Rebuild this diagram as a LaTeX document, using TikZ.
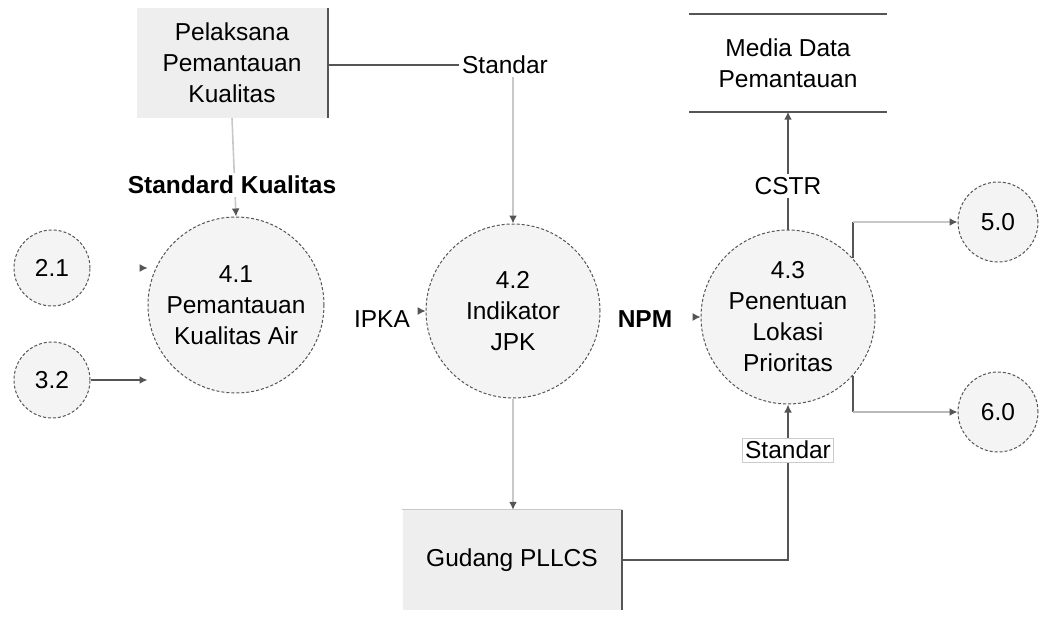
\documentclass[tikz,border=0pt]{standalone}
\usepackage{fontspec}
\setmainfont{Liberation Sans}
\usetikzlibrary{arrows.meta}
\definecolor{lineDark}{HTML}{555555}
\definecolor{lineLight}{HTML}{C8C8C8}
\definecolor{procFill}{HTML}{F4F4F4}
\definecolor{boxFill}{HTML}{EEEEEE}
\begin{document}
\begin{tikzpicture}[x=1pt,y=-1pt,
  every node/.style={font=\fontsize{24.5}{31}\selectfont, align=center, inner sep=2pt},
  proc/.style={circle, draw=lineDark, densely dashed, fill=procFill, line width=1pt, minimum size=#1},
  extbox/.style={fill=boxFill, minimum width=191pt, minimum height=110pt},
  flowlbl/.style={fill=white, inner sep=3pt},
  tip/.style={-{Latex[length=8pt,width=8pt,color=lineDark]}},
  dark/.style={draw=lineDark, line width=1.6pt},
  light/.style={draw=lineLight, line width=1.6pt}]
\useasboundingbox (0,0) rectangle (1041,626);

% external entities
\node[extbox] (tl) at (232,63) {Pelaksana\\Pemantauan\\Kualitas};
\draw[dark] (tl.north east) -- (tl.south east);
\node[extbox, minimum width=219pt, minimum height=100pt] (gud) at (512,560) {Gudang PLLCS};
\draw[dark] (gud.north east) -- (gud.south east);
\draw[lineLight, line width=1pt] (gud.north west) -- (gud.north east);

% data store
\node[minimum width=197pt, minimum height=97pt] (db) at (788,63) {Media Data\\Pemantauan};
\draw[dark] (db.north west) -- (db.north east);
\draw[dark] (db.south west) -- (db.south east);

% processes
\node[proc=176pt] (c41) at (236,305) {4.1\\Pemantauan\\Kualitas Air};
\node[proc=174pt] (c42) at (513,311) {4.2\\Indikator\\JPK};
\node[proc=174pt] (c43) at (788,317) {4.3\\Penentuan\\Lokasi\\Prioritas};
\node[proc=76pt] (c21) at (52,268) {2.1};
\node[proc=76pt] (c32) at (52,380) {3.2};
\node[proc=80pt] (c50) at (998,222) {5.0};
\node[proc=80pt] (c60) at (998,412) {6.0};

% flows
\draw[draw=white, line width=1pt, tip] (c21.east) -- (c21.east -| c41.west);
\draw[dark, tip] (c32.east) -- (c32.east -| c41.west);

\node[flowlbl] (std1) at (505,65) {Standar};
\draw[dark] (tl.east |- std1) -- (std1.west);
\draw[light, tip] (std1.south -| c42.north) -- (c42.north);

\draw[light, tip] (tl.south) -- (c41.north);
\node[flowlbl] (sk) at (232,185) {\bfseries Standard Kualitas};

\draw[white, line width=1pt, tip] (c41.east |- c42.west) -- (c42.west);
\node[flowlbl] (ipka) at (382,319) {IPKA};

\draw[white, line width=1pt, tip] (c42.east |- c43.west) -- (c43.west);
\node[flowlbl] (npm) at (645,319) {\bfseries NPM};

\draw[dark, tip] (c43.north) -- (db.south);
\node[flowlbl] (cstr) at (788,186) {CSTR};

\draw[dark] (c43.42) -- (c43.42 |- c50.west);
\draw[light, tip] (c43.42 |- c50.west) -- (c50.west);
\draw[dark] (c43.-42) -- (c43.-42 |- c60.west);
\draw[draw=gray!55, line width=1.6pt, tip] (c43.-42 |- c60.west) -- (c60.west);

\draw[light, tip] (c42.south) -- (gud.north -| c42.south);
\draw[dark, tip] (gud.east) -| (c43.south);
\node[flowlbl, draw=gray!40, line width=1pt] (std2) at (788,450) {Standar};
\end{tikzpicture}
\end{document}
